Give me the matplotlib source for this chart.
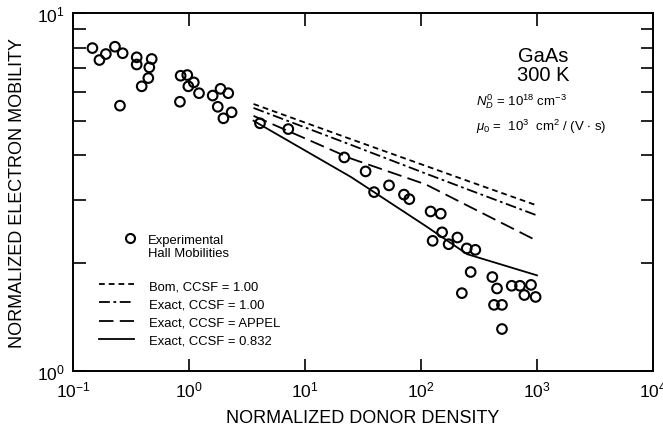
import numpy as np
import matplotlib
matplotlib.use("Agg")
import matplotlib.pyplot as plt
from matplotlib.ticker import LogLocator, NullLocator, NullFormatter
from matplotlib.lines import Line2D

plt.rcParams['font.family'] = ['Liberation Sans', 'DejaVu Sans']
plt.rcParams['mathtext.fontset'] = 'custom'
plt.rcParams['mathtext.rm'] = 'Liberation Sans'
plt.rcParams['mathtext.it'] = 'Liberation Sans:italic'

# puntos experimentales (densidad normalizada, movilidad normalizada)
exp_x = [0.147, 0.169, 0.192, 0.230, 0.268, 0.254, 0.354, 0.354, 0.477, 0.455,
         0.446, 0.391, 0.847, 0.966, 0.835, 1.10, 0.987, 1.22, 1.60, 1.87,
         2.18, 1.77, 1.98, 2.33, 4.09, 7.18, 21.8, 33.3, 39.4, 53.0,
         71.3, 79.3, 121, 148, 152, 126, 173, 206, 248, 294,
         268, 225, 412, 452, 426, 499, 499, 605, 713, 778, 888, 973]
exp_y = [7.98, 7.39, 7.68, 8.05, 7.72, 5.51, 7.52, 7.18, 7.44, 7.05,
         6.58, 6.24, 6.68, 6.71, 5.65, 6.40, 6.24, 5.97, 5.88, 6.14,
         5.97, 5.47, 5.08, 5.28, 4.92, 4.74, 3.95, 3.61, 3.16, 3.30,
         3.11, 3.02, 2.79, 2.75, 2.44, 2.31, 2.26, 2.36, 2.20, 2.18,
         1.89, 1.65, 1.83, 1.70, 1.53, 1.53, 1.31, 1.73, 1.73, 1.63, 1.74, 1.61]

# curvas teoricas
curva_x = [3.6, 25, 110, 250, 1000]
born_100 = [5.57, 4.44, 3.74, 3.40, 2.90]
exact_100 = [5.43, 4.28, 3.56, 3.22, 2.72]
exact_appel = [5.16, 3.92, 3.32, 2.90, 2.31]
exact_0832 = [5.00, 3.48, 2.54, 2.12, 1.85]

etiquetas = ['Bom, CCSF = 1.00', 'Exact, CCSF = 1.00',
             'Exact, CCSF = APPEL', 'Exact, CCSF = 0.832']

fig = plt.figure(figsize=(6.63, 4.35), dpi=100)
ax = fig.add_axes([73/663, 1-372/435, 580/663, 358/435])

estilos = [(0, (3.2, 2.2)), (0, (6, 2, 1.5, 2)), (0, (8, 3.5)), '-']
series = [born_100, exact_100, exact_appel, exact_0832]
lineas = []
for s, ls, lab in zip(series, estilos, etiquetas):
    l, = ax.plot(curva_x, s, color='black', lw=1.3, ls=ls, label=lab)
    lineas.append(l)

ax.scatter(exp_x, exp_y, s=48, facecolors='none', edgecolors='black',
           linewidths=1.5, zorder=3)

ax.set_xscale('log')
ax.set_yscale('log')
ax.set_xlim(0.1, 1e4)
ax.set_ylim(1, 10)
ax.xaxis.set_minor_locator(NullLocator())
ax.yaxis.set_minor_locator(LogLocator(base=10, subs=np.arange(2, 10)))
ax.yaxis.set_minor_formatter(NullFormatter())
ax.tick_params(which='both', direction='in', top=True, right=True,
               labelsize=12.5, width=1.2)
ax.tick_params(which='major', length=9, pad=6)
ax.tick_params(which='minor', length=9)
for sp in ax.spines.values():
    sp.set_linewidth(1.4)

ax.set_xlabel('NORMALIZED DONOR DENSITY', fontsize=13, labelpad=7)
ax.set_ylabel('NORMALIZED ELECTRON MOBILITY', fontsize=13, labelpad=8)

# leyenda de puntos
h_pts = Line2D([], [], ls='none', marker='o', mfc='none', mec='black',
               mew=1.5, ms=6.5)
h_vacio = Line2D([], [], ls='none')
leg1 = ax.legend([h_pts, h_vacio], ['Experimental', 'Hall Mobilities'],
                 loc='center left', bbox_to_anchor=(0.083, 0.348),
                 frameon=False, fontsize=9.4, handlelength=0.6,
                 handletextpad=1.05, labelspacing=0.1, borderaxespad=0)
ax.add_artist(leg1)
ax.legend(handles=lineas, loc='center left', bbox_to_anchor=(0.036, 0.162),
          frameon=False, fontsize=9.4, handlelength=2.7, handletextpad=1.1,
          labelspacing=0.45, borderaxespad=0)

ax.text(0.81, 0.855, 'GaAs\n300 K', transform=ax.transAxes, ha='center',
        va='center', fontsize=14.5, linespacing=0.95)
ax.text(0.695, 0.755, r'$N_D^0$ = 10$^{18}$ cm$^{-3}$', transform=ax.transAxes,
        ha='left', va='center', fontsize=9.5)
ax.text(0.695, 0.685, r'$\mu_0$ =  10$^3$  cm$^2$ / (V $\bullet$ s)',
        transform=ax.transAxes, ha='left', va='center', fontsize=9.5)

fig.savefig('out.png', dpi=100)
